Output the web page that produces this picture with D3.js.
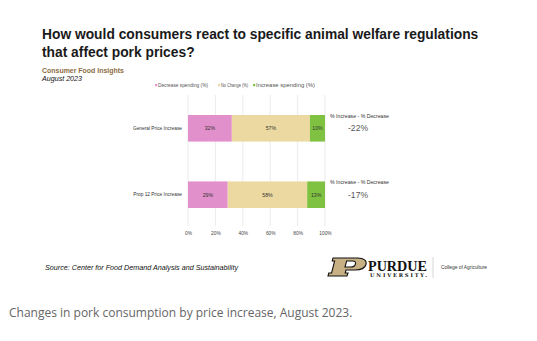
<!DOCTYPE html>
<html>
<head>
  <meta charset="UTF-8">
  <style>
    body { margin: 0; background: #fff; }
    svg { display: block; }
    text { font-family: "Liberation Sans", Arial, sans-serif; }
  </style>
</head>
<body>
<svg></svg>
<script src="https://d3js.org/d3.v7.min.js"></script>
<script>

let width = 537, height = 341;

// chart data
const categories = ["General Price Increase", "Prop 12 Price Increase"];
const seriesNames = ["Decrease spending (%)", "No Change (%)", "Increase spending (%)"];
const decrease = [32, 29];
const noChange = [57, 58];
const increase = [10, 13];
const netChange = ["-22%", "-17%"];
const tickValues = [0, 20, 40, 60, 80, 100];

const colors = ["#e290cb", "#ecd9a1", "#7fc241"];

let svg = d3.select("svg")
    .attr("width", width)
    .attr("height", height);

// title block
svg.append("text")
    .attr("x", 42).attr("y", 39)
    .style("font-weight", "bold").style("font-size", "13.8px").style("fill", "#1a1a1a")
    .text("How would consumers react to specific animal welfare regulations");
svg.append("text")
    .attr("x", 42).attr("y", 57)
    .style("font-weight", "bold").style("font-size", "13.8px").style("fill", "#1a1a1a")
    .text("that affect pork prices?");
svg.append("text")
    .attr("x", 42).attr("y", 73)
    .style("font-weight", "bold").style("font-size", "7.6px").style("fill", "#8b6d3f")
    .attr("textLength", 82).attr("lengthAdjust", "spacingAndGlyphs")
    .text("Consumer Food Insights");
svg.append("text")
    .attr("x", 42).attr("y", 81)
    .style("font-style", "italic").style("font-size", "7px").style("fill", "#111")
    .attr("textLength", 40).attr("lengthAdjust", "spacingAndGlyphs")
    .text("August 2023");

// scales
let x = d3.scaleLinear().domain([0, 100]).range([188, 325]);
let y = d3.scaleBand().domain(categories).range([115, 208]).paddingInner(0.6);

// grid
svg.append("g").selectAll("line")
    .data(tickValues)
    .enter().append("line")
    .attr("x1", d => x(d)).attr("x2", d => x(d))
    .attr("y1", 95).attr("y2", 226)
    .attr("stroke", "#e6e6e6").attr("stroke-width", 0.8);

// x axis labels
let xAxis = d3.axisBottom(x).tickValues(tickValues).tickFormat(d => d + "%").tickSize(0);
let ax = svg.append("g").attr("transform", "translate(0,229)").call(xAxis);
ax.select(".domain").remove();
ax.selectAll("text").style("font-size", "4.8px").style("fill", "#444")
    .style("font-family", "'Liberation Sans', Arial, sans-serif");

// legend
let legendX = [155, 218, 253];
let legendW = [50, 27, 59];
let legend = svg.append("g").selectAll("g")
    .data(seriesNames)
    .enter().append("g")
    .attr("transform", (d, i) => "translate(" + legendX[i] + ",87)");
legend.append("rect")
    .attr("x", 0).attr("y", -3).attr("width", 2.2).attr("height", 2.2)
    .attr("fill", (d, i) => colors[i]);
legend.append("text")
    .attr("x", 3).attr("y", 0)
    .style("font-size", "5.2px").style("fill", "#555")
    .attr("textLength", (d, i) => legendW[i]).attr("lengthAdjust", "spacingAndGlyphs")
    .text(d => d);

// stacked bars
let rows = categories.map((c, i) => ({ cat: c, vals: [decrease[i], noChange[i], increase[i]], net: netChange[i] }));
let segs = [];
rows.forEach(r => {
    let acc = 0;
    r.vals.forEach((v, k) => {
        segs.push({ cat: r.cat, k: k, x0: acc, x1: acc + v, v: v });
        acc += v;
    });
});
// last segment fills to 100 (rounding in the source)
segs.forEach(s => { if (s.k == 2) s.x1 = 100; });

svg.append("g").selectAll("rect")
    .data(segs)
    .enter().append("rect")
    .attr("x", d => x(d.x0))
    .attr("width", d => x(d.x1) - x(d.x0))
    .attr("y", d => y(d.cat))
    .attr("height", y.bandwidth())
    .attr("fill", d => colors[d.k]);

svg.append("g").selectAll("text")
    .data(segs)
    .enter().append("text")
    .attr("x", d => (x(d.x0) + x(d.x1)) / 2)
    .attr("y", d => y(d.cat) + y.bandwidth() / 2 + 1.8)
    .attr("text-anchor", "middle")
    .style("font-size", "5.2px").style("fill", "#333")
    .text(d => d.v + "%");

// category labels
svg.append("g").selectAll("text")
    .data(categories)
    .enter().append("text")
    .attr("x", 182)
    .attr("y", d => y(d) + y.bandwidth() / 2 + 1.7)
    .attr("text-anchor", "end")
    .style("font-size", "4.8px").style("fill", "#333")
    .text(d => d);

// net change notes
let notes = svg.append("g").selectAll("g")
    .data(rows)
    .enter().append("g")
    .attr("transform", d => "translate(330," + y(d.cat) + ")");
notes.append("text")
    .attr("x", 0).attr("y", 3)
    .style("font-size", "5.1px").style("fill", "#333")
    .attr("textLength", 59).attr("lengthAdjust", "spacingAndGlyphs")
    .text("% Increase - % Decrease");
notes.append("text")
    .attr("x", 18).attr("y", 16.3)
    .style("font-size", "8.6px").style("fill", "#555")
    .text(d => d.net);

// source
svg.append("text")
    .attr("x", 45).attr("y", 270)
    .style("font-style", "italic").style("font-size", "7.1px").style("fill", "#111")
    .attr("textLength", 193).attr("lengthAdjust", "spacingAndGlyphs")
    .text("Source:  Center for Food Demand Analysis and Sustainability");

// purdue logo
let logo = svg.append("g").attr("transform", "translate(328,258)");
logo.append("path")
    .attr("d", "M5,0 L30,0 C36,0 39,3 38,6.5 C37,10 33,12 27,12 L18,12 L17.2,15 L20,15 L19,18 L0,18 L0.8,15 L3.6,15 L6.6,3 L4.2,3 Z M18.6,3 L24.5,3 C27.5,3 28,4.5 27.3,6.5 C26.6,8.5 25,9 22.5,9 L17,9 Z")
    .attr("fill", "#c6b084").attr("fill-rule", "evenodd")
    .attr("stroke", "#111").attr("stroke-width", 1.1);
svg.append("text")
    .attr("x", 368).attr("y", 270.5)
    .style("font-family", "'Liberation Serif', 'DejaVu Serif', serif")
    .style("font-weight", "bold").style("font-size", "14.5px").style("fill", "#111")
    .attr("textLength", 59).attr("lengthAdjust", "spacingAndGlyphs")
    .text("PURDUE");
svg.append("text")
    .attr("x", 370).attr("y", 277)
    .style("font-family", "'DejaVu Serif', 'Liberation Serif', serif")
    .style("font-weight", "bold").style("font-size", "5.2px").style("fill", "#111")
    .attr("textLength", 57).attr("lengthAdjust", "spacing")
    .text("UNIVERSITY.");
svg.append("line")
    .attr("x1", 433).attr("x2", 433).attr("y1", 257).attr("y2", 278)
    .attr("stroke", "#bbb").attr("stroke-width", 0.6);
svg.append("text")
    .attr("x", 441).attr("y", 269)
    .style("font-size", "5.2px").style("fill", "#333")
    .attr("textLength", 46).attr("lengthAdjust", "spacingAndGlyphs")
    .text("College of Agriculture");

// caption
svg.append("text")
    .attr("x", 9).attr("y", 317)
    .style("font-family", "'Open Sans', sans-serif")
    .style("font-size", "12px").style("fill", "#666")
    .text("Changes in pork consumption by price increase, August 2023.");

</script>
</body>
</html>
